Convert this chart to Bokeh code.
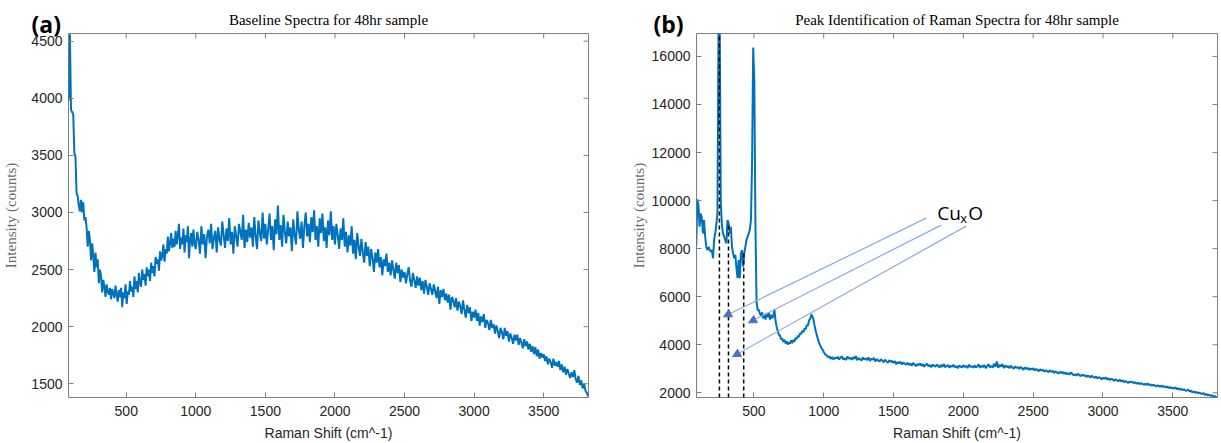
from bokeh.plotting import figure
from bokeh.layouts import row
from bokeh.models import (FixedTicker, Range1d, Label, Arrow,
                          NormalHead, ColumnDataSource)
from bokeh.core.properties import value
from bokeh.embed import file_html
from bokeh.resources import INLINE
import numpy as np

# ---------------- data ----------------
# Raman shift grid: low part every ~8 cm^-1, high part every 10 cm^-1
lo_shift_start, lo_shift_stop = 87, 999
hi_shift_start, hi_shift_stop = 1000, 3820

baseline_lo = [3980, 4560, 3900, 3880, 3860, 3520, 3490, 3170, 3140, 3060,
               3010, 3110,
               3000, 3090, 2930, 2960, 2870, 2700, 2840, 2760, 2580, 2730,
               2620, 2480, 2650, 2520, 2590, 2380, 2500, 2440, 2300, 2410,
               2350, 2260, 2370, 2310, 2280, 2340, 2240, 2330, 2290, 2250,
               2360, 2280, 2220, 2320, 2260, 2340, 2170, 2300, 2250, 2370,
               2200, 2310, 2280, 2400, 2310, 2350, 2260, 2440, 2330, 2400,
               2300, 2470, 2380, 2350, 2500, 2410, 2460, 2360, 2520, 2440,
               2500, 2400, 2560, 2470, 2530, 2440, 2610, 2550, 2590, 2490,
               2660, 2580, 2620, 2720, 2570, 2680, 2640, 2790, 2660, 2730,
               2820, 2690, 2770, 2700, 2840, 2720, 2800, 2900, 2680, 2780,
               2720, 2860, 2650, 2800, 2740, 2880, 2600, 2760, 2820, 2700,
               2850, 2730, 2680]
baseline_hi = [2690, 2830, 2760, 2640, 2880, 2720, 2810, 2600, 2790, 2850,
               2730, 2900, 2680, 2780, 2840, 2650, 2870, 2760, 2710, 2920,
               2800, 2690, 2860, 2750, 2950, 2720, 2830, 2640, 2880, 2790,
               2700, 2900, 2830, 2760, 2980, 2690, 2850, 2740, 2910, 2780,
               2870, 2700, 2960, 2790, 2680, 2930, 2820, 2750, 3000, 2770,
               2900, 2720, 2850, 2990, 2760, 2880, 2670, 2940, 2810, 3060,
               2760, 2890, 2700, 2980, 2830, 2730, 2920, 2790, 2870, 2660,
               2940, 2800, 2720, 3010, 2850, 2770, 2920, 2690, 2880, 3000,
               2790, 2900, 2740, 2960, 2830, 3020, 2760, 2880, 2700, 2950,
               2820, 2990, 2750, 2870, 2690, 2930, 2800, 3010, 2760, 2880,
               2720, 2900, 2800, 2680, 2860, 2760, 2950, 2700, 2830, 2650,
               2800, 2710, 2880, 2640, 2760, 2590, 2820, 2700, 2620, 2770,
               2650, 2560, 2740, 2620, 2700, 2530, 2680, 2600, 2480, 2650,
               2560, 2680, 2520, 2610, 2450, 2590, 2530, 2640, 2480, 2560,
               2450, 2580, 2500, 2420, 2560, 2470, 2540, 2390, 2500, 2430,
               2480, 2380, 2460, 2520, 2400, 2350, 2470, 2410, 2340, 2440,
               2360, 2430, 2320, 2400, 2290, 2410, 2350, 2280, 2380, 2330,
               2280, 2370, 2310, 2250, 2350, 2200, 2320, 2260, 2330, 2230,
               2290, 2210, 2280, 2150, 2260, 2230, 2170, 2250, 2140, 2220,
               2180, 2110, 2230, 2150, 2080, 2190, 2120, 2170, 2050, 2130,
               2080, 2150, 2050, 2120, 2010, 2090, 2040, 2110, 1990, 2060,
               2030, 1970, 2060, 1990, 2020, 1940, 2010, 1960, 1900, 1990,
               1950, 1890, 1990, 1920, 1960, 1870, 1940, 1900, 1850, 1930,
               1880, 1930, 1840, 1900, 1860, 1810, 1890, 1830, 1870, 1800,
               1850, 1780, 1830, 1760, 1820, 1740, 1800, 1720, 1770, 1730,
               1760, 1700, 1740, 1670, 1720, 1690, 1640, 1720, 1660, 1690,
               1650, 1700, 1620, 1670, 1600, 1650, 1580, 1630, 1590, 1550,
               1600, 1560, 1620, 1540, 1510, 1570, 1490, 1530, 1460, 1500,
               1440, 1420, 1390]

raman_lo = [8100, 10050, 9800, 8910, 9460, 9300, 8630, 9190, 8500, 8080,
            7940, 8080, 7950, 7870, 7940, 7600, 8360, 8630, 9000, 9460,
            17500, 17500, 9880, 9000, 8630, 8500, 8350, 8220, 9190, 9050,
            8630, 8910, 8080, 7800, 7600, 7740, 7200, 6770, 7530, 6770,
            7800, 7940, 7250, 7800, 8080, 8360, 8500, 8630, 8800, 9200,
            11600, 16370, 15000, 9000, 5800, 5450, 5450, 5300, 5200, 5350,
            5100, 5250, 5050, 5300, 5150, 5350, 5050, 5250, 5100, 5200,
            5450, 5000, 4750, 4560, 4420, 4380, 4230, 4260, 4120, 4210,
            4050, 4140, 4010, 4090, 4060, 4180, 4070, 4210, 4130, 4290,
            4240, 4380, 4330, 4480, 4450, 4590, 4520, 4680, 4650, 4820,
            4790, 5020, 5080, 5260, 5180, 5060, 4780, 4570, 4380, 4230,
            4070, 3980, 3860, 3810, 3720]
raman_hi = [3700, 3600, 3570, 3480, 3520, 3410, 3490, 3380, 3470, 3430,
            3500, 3390, 3460, 3520, 3380, 3440, 3370, 3510, 3420, 3460,
            3380, 3480, 3420, 3530, 3360, 3450, 3400, 3340, 3470, 3390,
            3440, 3360, 3470, 3330, 3410, 3380, 3450, 3310, 3400, 3350,
            3300, 3400, 3340, 3270, 3380, 3310, 3250, 3360, 3290, 3330,
            3240, 3320, 3190, 3280, 3230, 3300, 3180, 3260, 3210, 3170,
            3250, 3160, 3220, 3130, 3240, 3180, 3110, 3200, 3150, 3230,
            3120, 3190, 3090, 3170, 3210, 3100, 3160, 3060, 3180, 3120,
            3090, 3170, 3130, 3050, 3160, 3080, 3200, 3060, 3120, 3150,
            3040, 3130, 3080, 3170, 3060, 3110, 3020, 3140, 3090, 3060,
            3150, 3070, 3120, 3030, 3170, 3080, 3110, 3050, 3140, 3060,
            3100, 3180, 3040, 3130, 3070, 3160, 3030, 3110, 3190, 3060,
            3120, 3050, 3210, 3080, 3300, 3040, 3160, 3090, 3200, 3030,
            3140, 3070, 3110, 3020, 3130, 3060, 3000, 3100, 3040, 3070,
            2990, 3080, 3020, 2960, 3060, 2990, 3040, 2950, 3010, 2970,
            3020, 2930, 2990, 2960, 2900, 2980, 2920, 2960, 2880, 2940,
            2900, 2860, 2940, 2870, 2920, 2830, 2890, 2850, 2800, 2870,
            2830, 2870, 2790, 2850, 2770, 2820, 2760, 2840, 2790, 2730,
            2770, 2720, 2790, 2740, 2690, 2760, 2710, 2740, 2660, 2720,
            2690, 2640, 2710, 2660, 2620, 2680, 2600, 2650, 2620, 2570,
            2620, 2580, 2640, 2560, 2600, 2530, 2590, 2550, 2500, 2560,
            2520, 2480, 2550, 2470, 2520, 2440, 2490, 2460, 2410, 2470,
            2430, 2470, 2400, 2440, 2380, 2420, 2360, 2410, 2370, 2340,
            2370, 2330, 2390, 2320, 2350, 2290, 2340, 2300, 2270, 2310,
            2290, 2250, 2310, 2240, 2280, 2220, 2260, 2200, 2240, 2190,
            2210, 2170, 2230, 2150, 2190, 2130, 2170, 2110, 2150, 2090,
            2100, 2130, 2060, 2090, 2020, 2060, 2000, 2040, 1980, 2010,
            1980, 1950, 1990, 1920, 1950, 1890, 1920, 1870, 1900, 1840,
            1860, 1830, 1810]

# CuxO peak markers (dashed lines) and annotation arrows
cuxo_peak_shift = [253, 318, 427]
cuxo_peak_top = [16954, 9050, 7800]
arrow_x_start = [1734, 1842, 2020]
arrow_y_start = [9270, 8979, 8938]
arrow_x_end = [282, 461, 347]
arrow_y_end = [5164, 4915, 3505]
cuxo_label_x, cuxo_label_y = 1813, 9477

x_ticks = [500, 1000, 1500, 2000, 2500, 3000, 3500]
ya_ticks = [1500, 2000, 2500, 3000, 3500, 4000, 4500]
yb_ticks = [2000, 4000, 6000, 8000, 10000, 12000, 14000, 16000]
xa_range = (85, 3822)
ya_range = (1380, 4567)
xb_range = (89, 3820)
yb_range = (1805, 16954)


def grid(lo, hi):
    return (list(np.linspace(lo_shift_start, lo_shift_stop, len(lo))) +
            list(np.linspace(hi_shift_start, hi_shift_stop, len(hi))))


shift_a = grid(baseline_lo, baseline_hi)
int_a = baseline_lo + baseline_hi
shift_b = grid(raman_lo, raman_hi)
int_b = raman_lo + raman_hi

LINE_COLOR = "#0072BD"
AX_COLOR = "#262626"
FRAME_COLOR = "#808080"
TICK_FONT = "Liberation Sans"
SERIF = "Liberation Serif"


def make_fig(title, width, xr, yr, yticks, left, right, ylab_standoff,
             letter, letter_dx):
    p = figure(width=width, height=443, x_range=Range1d(*xr), y_range=Range1d(*yr),
               output_backend="svg", toolbar_location=None,
               min_border_left=left, min_border_right=right,
               min_border_top=33, min_border_bottom=45)
    p.title.text = title
    p.title.align = "center"
    p.title.text_font = SERIF
    p.title.text_font_size = "15px"
    p.title.text_font_style = "normal"
    p.title.text_color = "#000000"
    p.title.standoff = 11
    p.grid.visible = False
    p.outline_line_color = FRAME_COLOR
    p.outline_line_width = 1
    p.background_fill_color = "white"
    p.border_fill_color = "white"

    p.xaxis.ticker = FixedTicker(ticks=x_ticks)
    p.yaxis.ticker = FixedTicker(ticks=yticks)
    for ax in (p.xaxis[0], p.yaxis[0]):
        ax.axis_line_color = None
        ax.major_tick_in = 5
        ax.major_tick_out = 0
        ax.major_tick_line_color = FRAME_COLOR
        ax.minor_tick_line_color = None
        ax.major_label_text_font = TICK_FONT
        ax.major_label_text_font_size = "14px"
        ax.major_label_text_color = AX_COLOR
    p.xaxis.major_label_standoff = 8
    p.yaxis.major_label_standoff = 6
    p.xaxis.axis_label = "Raman Shift (cm^-1)"
    p.xaxis.axis_label_text_font = TICK_FONT
    p.xaxis.axis_label_text_font_size = "14px"
    p.xaxis.axis_label_text_font_style = "normal"
    p.xaxis.axis_label_text_color = AX_COLOR
    p.xaxis.axis_label_standoff = 6
    p.yaxis.axis_label = "Intensity (counts)"
    p.yaxis.axis_label_text_font = SERIF
    p.yaxis.axis_label_text_font_size = "15px"
    p.yaxis.axis_label_text_font_style = "normal"
    p.yaxis.axis_label_text_color = "#6b6b6b"
    p.yaxis.axis_label_standoff = ylab_standoff

    # inward tick marks on the top and right edges of the box (clipped to frame)
    p.scatter(x=x_ticks, y=[yr[1]] * len(x_ticks), marker="dash", size=10,
              angle=np.pi / 2, line_color=FRAME_COLOR, line_width=1)
    p.scatter(x=[xr[1]] * len(yticks), y=yticks, marker="dash", size=10,
              line_color=FRAME_COLOR, line_width=1)

    # panel letter, anchored at the frame's top-left corner, drawn unclipped
    p.text(x=[xr[0]], y=[yr[1]], text=[letter], x_offset=letter_dx, y_offset=-10,
           text_font=value("Open Sans"), text_font_style="bold",
           text_font_size="23px", text_color="#000000",
           text_baseline="middle", text_align="left", level="overlay")
    return p


pa = make_fig("Baseline Spectra for 48hr sample", 620, xa_range, ya_range,
              ya_ticks, 66, 32, 9, "(a)", -37)
pa.line(shift_a, int_a, line_color=LINE_COLOR, line_width=2)

pb = make_fig("Peak Identification of Raman Spectra for 48hr sample", 601,
              xb_range, yb_range, yb_ticks, 76, 4, 2, "(b)", -43)
pb.line(shift_b, int_b, line_color=LINE_COLOR, line_width=2)

pb.segment(x0=cuxo_peak_shift, y0=[yb_range[0]] * len(cuxo_peak_shift),
           x1=cuxo_peak_shift, y1=cuxo_peak_top,
           line_color="#000000", line_width=1.5, line_dash="4 3")

arrow_src = ColumnDataSource(dict(x0=arrow_x_start, y0=arrow_y_start,
                                  x1=arrow_x_end, y1=arrow_y_end))
pb.add_layout(Arrow(source=arrow_src, x_start="x0", y_start="y0",
                    x_end="x1", y_end="y1", line_color="#8FAADC", line_width=1.2,
                    end=NormalHead(size=8, fill_color="#4472C4",
                                   line_color="#4472C4", line_width=1)))

pb.add_layout(Label(x=cuxo_label_x, y=cuxo_label_y, text="Cu",
                    text_font="Open Sans", text_font_size="19px",
                    text_color="#000000", text_baseline="alphabetic"))
pb.add_layout(Label(x=cuxo_label_x, y=cuxo_label_y, x_offset=23, y_offset=-5,
                    text="x", text_font="Open Sans", text_font_size="13px",
                    text_color="#000000", text_baseline="alphabetic"))
pb.add_layout(Label(x=cuxo_label_x, y=cuxo_label_y, x_offset=31, text="O",
                    text_font="Open Sans", text_font_size="19px",
                    text_color="#000000", text_baseline="alphabetic"))

layout = row(pa, pb)
open("out.html", "w").write(file_html(layout, INLINE))
